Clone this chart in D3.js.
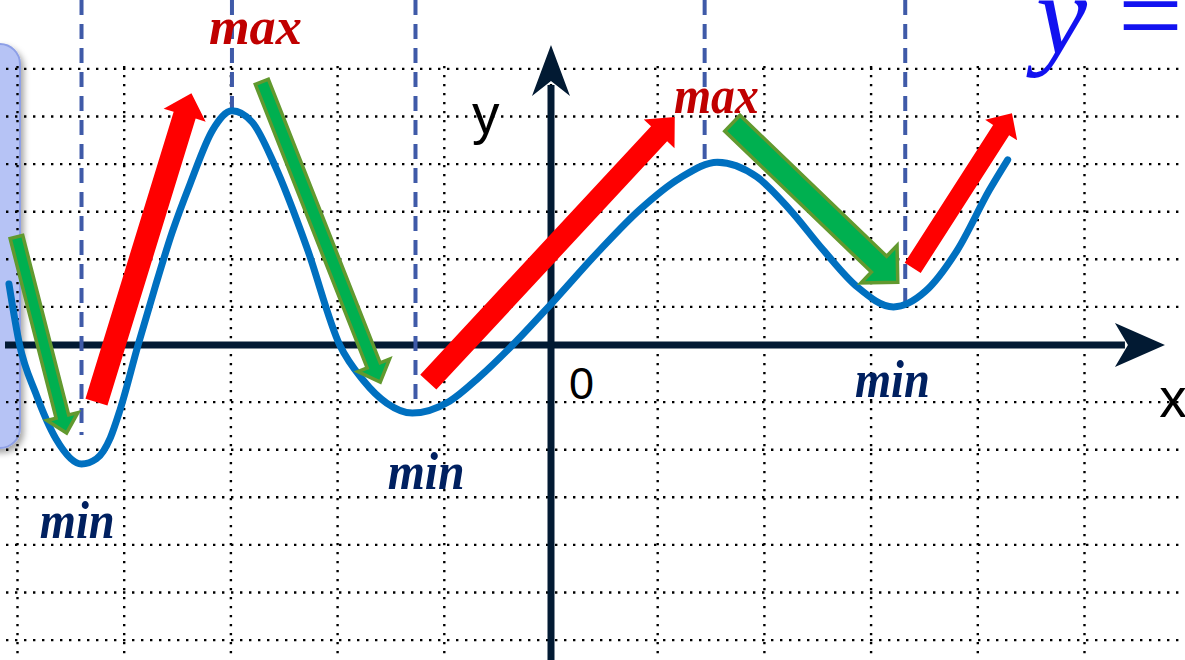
<!DOCTYPE html>
<html>
<head>
<meta charset="utf-8">
<script src="https://cdn.jsdelivr.net/npm/d3@7"></script>
<style>
  html, body { margin: 0; padding: 0; background: #fff; overflow: hidden; }
  svg { display: block; }
</style>
</head>
<body>
<svg></svg>
<script>
// curve, in grid units (1 = one grid cell)
const curveX = [-5.08, -4.98, -4.83, -4.64, -4.40, -4.26, -4.13, -4.04, -3.87, -3.71, -3.55, -3.38, -3.17, -2.99,
    -2.80, -2.59, -2.29, -1.98, -1.76, -1.54, -1.30, -0.95, -0.67, -0.36, 0.00, 0.46, 0.83, 1.21,
    1.56, 1.93, 2.24, 2.55, 2.87, 3.21, 3.51, 3.81, 4.11, 4.28];
const curveY = [1.28, 0.00, -1.01, -1.97, -2.50, -2.39, -1.95, -1.37, 0.00, 1.22, 2.37, 3.40, 4.52, 4.92,
    4.68, 3.78, 2.06, 0.00, -0.74, -1.22, -1.43, -1.18, -0.67, 0.00, 0.86, 2.00, 2.84, 3.51,
    3.84, 3.53, 2.84, 2.00, 1.22, 0.80, 1.13, 2.00, 3.26, 3.89];

// dashed drop lines at the extremes
const dashX = [-4.40, -2.99, -1.27, 1.44, 3.32];
const dashEndY = [-1.89, 4.94, -1.16, 3.84, 0.88];

// labels of the extremes
const extremeText = ["min", "max", "min", "max", "min"];
const extremeLabelX = [-4.44, -2.77, -1.17, 1.55, 3.20];
const extremeLabelY = [-4.05, 6.32, -3.03, 4.87, -1.09];

// rising (red) and falling (green) arrows: start and tip
const redFrom = [[-4.26, -1.20], [-1.15, -0.78], [3.39, 1.62]];
const redTo = [[-3.37, 5.29], [1.16, 4.79], [4.32, 4.87]];
const greenFrom = [[-5.01, 2.27], [-2.71, 5.53], [1.70, 4.66]];
const greenTo = [[-4.54, -1.85], [-1.60, -0.78], [3.25, 1.32]];

// grid lines
const gridX = [-5, -4, -3, -2, -1, 0, 1, 2, 3, 4, 5];
const gridY = [5.8, 4.8, 3.8, 2.8, 1.8, 0.8, -1.2, -2.2, -3.2, -4.2, -5.2, -6.2];

const svgWidth = 1185;
const svgHeight = 660;
const svg = d3.select("svg")
    .attr("width", svgWidth)
    .attr("height", svgHeight);

const x = d3.scaleLinear().domain([-5.164, 5.942]).range([0, svgWidth]);
const y = d3.scaleLinear().domain([-6.618, 7.248]).range([svgHeight, 0]);

const axisColor = "#021a33";
const serif = "'Liberation Serif', 'Times New Roman', serif";

const defs = svg.append("defs");
const shadow = defs.append("filter").attr("id", "shadow")
    .attr("x", "-50%").attr("y", "-20%").attr("width", "200%").attr("height", "140%");
shadow.append("feDropShadow")
    .attr("dx", 3).attr("dy", 4).attr("stdDeviation", 3)
    .attr("flood-color", "#000").attr("flood-opacity", 0.35);

// side panel peeking in from the left
svg.append("rect")
    .attr("x", -40).attr("y", 44)
    .attr("width", 60).attr("height", 404)
    .attr("rx", 20)
    .attr("fill", "#b6c3f5")
    .attr("stroke", "#8d9fe6")
    .attr("stroke-width", 2)
    .attr("filter", "url(#shadow)");

// dotted grid
const grid = svg.append("g")
    .attr("stroke", "#000")
    .attr("stroke-width", 2.4)
    .attr("stroke-dasharray", "2.4,6.6");

grid.selectAll("line.h")
    .data(gridY)
    .enter().append("line")
    .attr("class", "h")
    .attr("x1", 6).attr("x2", svgWidth)
    .attr("y1", d => y(d)).attr("y2", d => y(d));

grid.selectAll("line.v")
    .data(gridX)
    .enter().append("line")
    .attr("class", "v")
    .attr("x1", d => x(d)).attr("x2", d => x(d))
    .attr("y1", y(5.8) - 3).attr("y2", svgHeight);

// axes with arrow heads
const x0 = x(0), y0 = y(0);
const xTip = x(5.754), yTip = y(6.3);

svg.append("line")
    .attr("x1", 5).attr("x2", xTip - 40)
    .attr("y1", y0).attr("y2", y0)
    .attr("stroke", axisColor).attr("stroke-width", 7);

svg.append("line")
    .attr("x1", x0).attr("x2", x0)
    .attr("y1", svgHeight).attr("y2", yTip + 40)
    .attr("stroke", axisColor).attr("stroke-width", 7);

svg.append("path")
    .attr("d", `M${xTip},${y0} L${xTip - 50},${y0 - 22} L${xTip - 37},${y0} L${xTip - 50},${y0 + 22} Z`)
    .attr("fill", axisColor);

svg.append("path")
    .attr("d", `M${x0},${yTip} L${x0 - 19},${yTip + 51} L${x0},${yTip + 36} L${x0 + 19},${yTip + 51} Z`)
    .attr("fill", axisColor);

// dashed lines through extremes
svg.append("g")
    .selectAll("line")
    .data(dashX)
    .enter().append("line")
    .attr("x1", d => x(d)).attr("x2", d => x(d))
    .attr("y1", 0)
    .attr("y2", (d, i) => y(dashEndY[i]))
    .attr("stroke", "#3f5aa8")
    .attr("stroke-width", 4)
    .attr("stroke-dasharray", "15,9");

// the function graph
const points = curveX.map((d, i) => [d, curveY[i]]);
const line = d3.line()
    .x(d => x(d[0]))
    .y(d => y(d[1]))
    .curve(d3.curveMonotoneX);

svg.append("path")
    .datum(points)
    .attr("d", line)
    .attr("fill", "none")
    .attr("stroke", "#0070c0")
    .attr("stroke-width", 7)
    .attr("stroke-linecap", "round");

// block arrow outline from start to tip (pixel sizes)
function arrowPath(from, to, w, hw, hl) {
    const sx = x(from[0]), sy = y(from[1]);
    const tx = x(to[0]), ty = y(to[1]);
    const len = Math.hypot(tx - sx, ty - sy);
    const ux = (tx - sx) / len, uy = (ty - sy) / len;
    const nx = -uy, ny = ux;
    const bx = tx - ux * hl, by = ty - uy * hl;
    const p = [
        [sx + nx * w / 2, sy + ny * w / 2],
        [bx + nx * w / 2, by + ny * w / 2],
        [bx + nx * hw, by + ny * hw],
        [tx, ty],
        [bx - nx * hw, by - ny * hw],
        [bx - nx * w / 2, by - ny * w / 2],
        [sx - nx * w / 2, sy - ny * w / 2]
    ];
    return "M" + p.map(d => d.join(",")).join("L") + "Z";
}

const redSize = [[23, 22, 23], [22, 21, 23], [19, 19, 20]];
const greenSize = [[13, 16, 17], [14, 17, 18], [22, 26, 26]];

svg.append("g")
    .selectAll("path")
    .data(greenFrom)
    .enter().append("path")
    .attr("d", (d, i) => arrowPath(d, greenTo[i], ...greenSize[i]))
    .attr("fill", "#00b050")
    .attr("stroke", "#62992f")
    .attr("stroke-width", 3.5)
    .attr("stroke-linejoin", "miter");

svg.append("g")
    .selectAll("path")
    .data(redFrom)
    .enter().append("path")
    .attr("d", (d, i) => arrowPath(d, redTo[i], ...redSize[i]))
    .attr("fill", "#ff0000");

// min / max labels
const labelWidth = [75, 93, 77, 85, 75];

svg.append("g")
    .attr("font-family", serif)
    .attr("font-style", "italic")
    .attr("font-weight", "bold")
    .attr("font-size", 52)
    .attr("text-anchor", "middle")
    .selectAll("text")
    .data(extremeText)
    .enter().append("text")
    .attr("x", (d, i) => x(extremeLabelX[i]))
    .attr("y", (d, i) => y(extremeLabelY[i]))
    .attr("textLength", (d, i) => labelWidth[i])
    .attr("lengthAdjust", "spacingAndGlyphs")
    .attr("fill", d => d === "max" ? "#c00000" : "#002060")
    .text(d => d);

// axis names and origin
const axisText = svg.append("g")
    .attr("font-family", "'Liberation Sans', Arial, sans-serif")
    .attr("fill", "#000");

axisText.append("text")
    .attr("x", x0 - 79).attr("y", y(4.46))
    .attr("font-size", 55)
    .text("y");

axisText.append("text")
    .attr("x", x0 + 18).attr("y", y(-1.13))
    .attr("font-size", 45)
    .text("0");

axisText.append("text")
    .attr("x", x(5.70)).attr("y", y(-1.52))
    .attr("font-size", 55)
    .text("x");

// formula title cut at the top right corner
const title = svg.append("g")
    .attr("font-family", serif)
    .attr("font-style", "italic")
    .attr("font-size", 115)
    .attr("fill", "#1212f0");

title.append("text")
    .attr("x", 1036).attr("y", 54)
    .text("y");

title.append("text")
    .attr("x", 1118).attr("y", 54)
    .attr("font-style", "normal")
    .text("=");
</script>
</body>
</html>
